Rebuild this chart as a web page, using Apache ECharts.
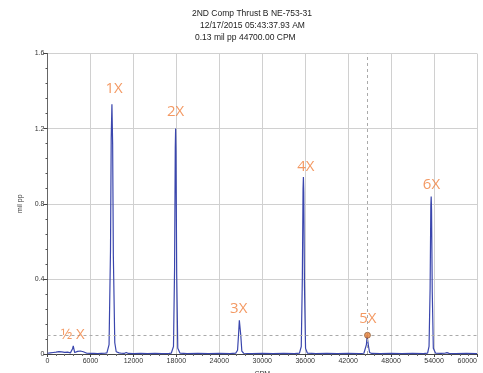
<!DOCTYPE html>
<html><head><meta charset="utf-8">
<script src="https://cdn.jsdelivr.net/npm/echarts@6/dist/echarts.min.js"></script>
<style>html,body{margin:0;padding:0;background:#fff}#c{width:483px;height:373px}</style>
</head><body><div id="c"></div>
<script>
// Spectrum samples (CPM, mil pp)
const cpm = [0,200,400,600,800,1000,1200,1400,1600,1800,2000,2200,2400,2600,2800,3000,3200,3400,3500,3600,3700,3800,4000,4200,4400,4600,4800,5000,5200,5500,6000,6500,7000,7500,8000,8300,
  8400,8600,8800,8900,9000,9100,9200,9400,9600,9800,10000,10300,10700,11000,11300,12000,13000,14000,15000,16000,17000,
  17300,17600,17750,17850,17900,17950,18050,18200,18500,19500,21000,22500,24000,25500,26300,
  26550,26700,26800,26850,26900,27000,27150,27400,28500,30000,31500,33000,34500,35200,
  35450,35600,35700,35750,35800,35900,36050,36300,37500,39000,40500,42000,43500,44200,
  44400,44550,44650,44700,44750,44850,45000,45300,46500,48000,49500,51000,52500,53100,
  53300,53450,53550,53600,53650,53750,53900,54200,55000,55500,55800,56100,57000,58500,60000];
const amp = [0.004,0.010,0.006,0.012,0.008,0.014,0.010,0.007,0.013,0.016,0.011,0.015,0.009,0.006,0.010,0.008,0.006,0.012,0.028,0.043,0.025,0.008,0.005,0.014,0.010,0.016,0.009,0.012,0.006,0.004,0.003,0.004,0.002,0.003,0.004,0.006,
  0.010,0.050,0.550,1.150,1.330,1.120,0.520,0.060,0.012,0.015,0.006,0.004,0.003,0.008,0.003,0.002,0.003,0.002,0.003,0.002,0.003,
  0.005,0.040,0.450,1.100,1.200,1.080,0.420,0.030,0.005,0.002,0.003,0.002,0.003,0.002,0.005,
  0.020,0.110,0.180,0.187,0.175,0.100,0.015,0.004,0.002,0.003,0.002,0.003,0.002,0.005,
  0.040,0.400,0.880,0.942,0.860,0.360,0.030,0.005,0.002,0.003,0.002,0.003,0.002,0.004,
  0.010,0.050,0.095,0.100,0.090,0.040,0.008,0.003,0.002,0.003,0.002,0.003,0.002,0.005,
  0.040,0.350,0.790,0.839,0.770,0.330,0.030,0.005,0.003,0.004,0.007,0.003,0.002,0.003,0.002];
// Harmonic annotations
const annText = ['\u00bd X','1X','2X','3X','4X','5X','6X'];
const annCpm  = [3520,9300,17900,26710,36080,44755,53640];
const annAmp  = [0.104,1.411,1.291,0.240,0.995,0.189,0.903];
// Cursor
const cursorCpm = 44700, cursorAmp = 0.10;
const titleLines = ['2ND Comp Thrust B NE-753-31','12/17/2015 05:43:37.93 AM','0.13 mil pp 44700.00 CPM'];

const chart = echarts.init(document.getElementById('c'), null, {renderer:'canvas'});
const font = 'Liberation Sans, Arial, sans-serif';
chart.setOption({
  animation:false,
  title:[
    {text:titleLines[0], left:192, top:9},
    {text:titleLines[1], left:200, top:21},
    {text:titleLines[2], left:195, top:33}
  ].map(t=>Object.assign(t,{padding:0,textStyle:{fontSize:8.5,fontWeight:'normal',color:'#222',fontFamily:font}})),
  grid:{left:47.5,right:6,top:53.5,bottom:19,containLabel:false,outerBoundsMode:'none'},
  xAxis:{type:'value',min:0,max:60000,interval:6000,name:'CPM',nameLocation:'middle',nameGap:17,
    nameTextStyle:{fontSize:7,color:'#333',fontFamily:font},
    axisLine:{lineStyle:{color:'#444',width:1}},
    axisTick:{show:true,length:3,lineStyle:{color:'#444'}},
    minorTick:{show:true,splitNumber:5,length:2,lineStyle:{color:'#666'}},
    axisLabel:{fontSize:7,color:'#333',margin:4,fontFamily:font,formatter:v=>String(v),alignMaxLabel:'right'},
    splitLine:{show:true,lineStyle:{color:'#d0d0d0',width:1}}},
  yAxis:{type:'value',min:0,max:1.6,interval:0.4,name:'mil pp',nameLocation:'middle',nameGap:20,nameRotate:90,
    nameTextStyle:{fontSize:7,color:'#333',fontFamily:font},
    axisLine:{show:true,lineStyle:{color:'#666',width:1}},
    axisTick:{show:true,length:4,lineStyle:{color:'#444'}},
    minorTick:{show:true,splitNumber:5,length:2,lineStyle:{color:'#555'}},
    axisLabel:{fontSize:7,color:'#333',margin:3,fontFamily:font,formatter:v=>v===0?'0':v.toFixed(1)},
    splitLine:{show:true,lineStyle:{color:'#d0d0d0',width:1}}},
  series:[
    {type:'line',data:cpm.map((c,i)=>[c,amp[i]]),showSymbol:false,symbol:'none',
      lineStyle:{color:'#3a46ad',width:1.2},
      markLine:{silent:true,symbol:'none',label:{show:false},
        lineStyle:{color:'#aaaaaa',type:[3,3],width:1},
        data:[{xAxis:cursorCpm},{yAxis:cursorAmp}]}},
    {type:'scatter',data:[[cursorCpm,cursorAmp]],symbolSize:6,z:5,
      itemStyle:{color:'#e8823a',borderColor:'#7a5030',borderWidth:0.8}},
    {type:'scatter',data:annCpm.map((c,i)=>[c,annAmp[i],annText[i]]),symbolSize:0,z:6,
      label:{show:true,position:'inside',formatter:p=>p.data[2],color:'#f07f3c',fontSize:15,
        fontFamily:'Open Sans, Lato, sans-serif'}}
  ]
});
</script></body></html>
